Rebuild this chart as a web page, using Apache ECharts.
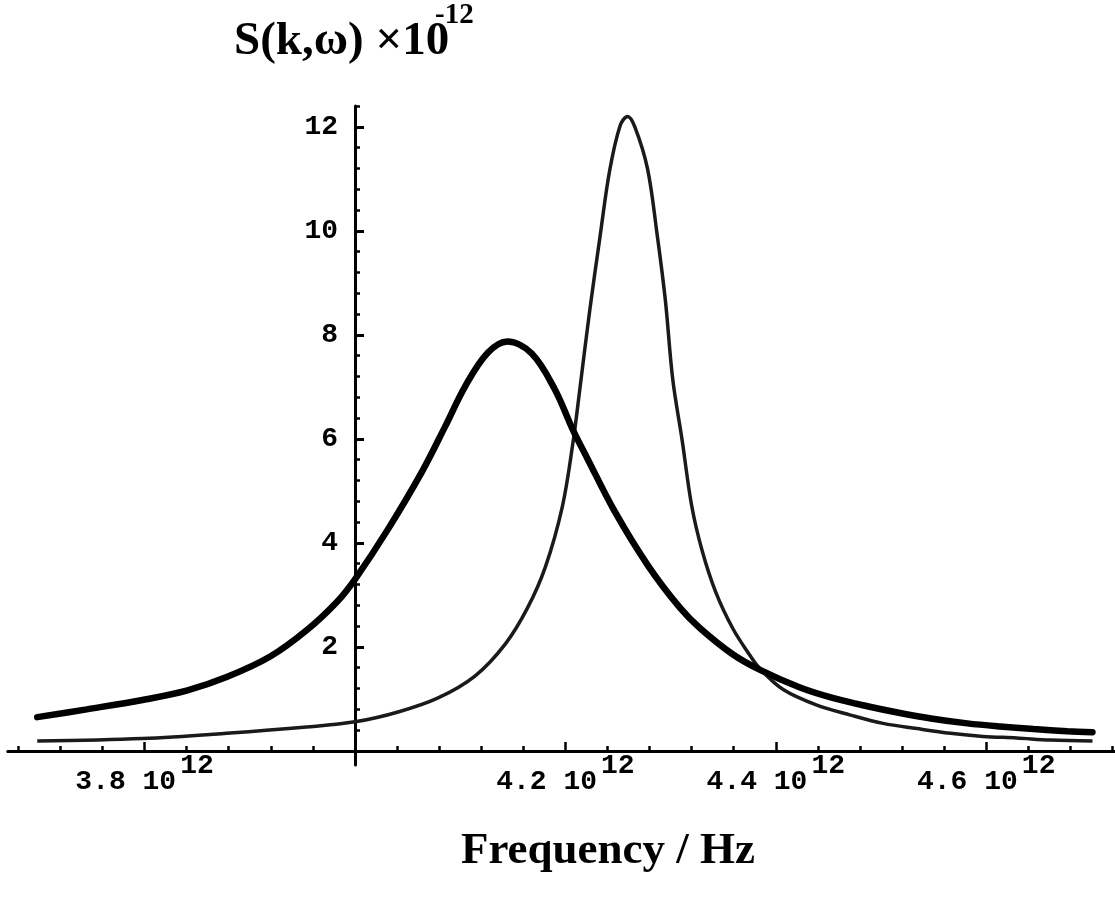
<!DOCTYPE html>
<html><head><meta charset="utf-8">
<script src="https://cdn.jsdelivr.net/npm/echarts@6/dist/echarts.min.js"></script>
<style>html,body{margin:0;padding:0;background:#fff}#c{width:1115px;height:904px}</style>
</head><body><div id="c"></div>
<script>
// Frequency in units of 10^12 Hz, S(k,ω) in units of 10^-12
const thickFreq = [3.698,3.745,3.798,3.840,3.878,3.919,3.954,3.983,4.000,4.031,4.064,4.086,4.105,4.126,4.145,4.168,4.190,4.207,4.221,4.247,4.279,4.309,4.328,4.359,4.385,4.423,4.454,4.487,4.518,4.549,4.582,4.613,4.645,4.677,4.701];
const thickVal  = [0.65,0.80,0.98,1.16,1.42,1.81,2.32,2.87,3.30,4.25,5.38,6.25,7.02,7.65,7.87,7.64,6.95,6.18,5.62,4.60,3.55,2.75,2.36,1.86,1.56,1.22,1.02,0.86,0.73,0.62,0.53,0.47,0.42,0.38,0.36];
const thinFreq = [3.698,3.798,3.878,3.954,4.000,4.041,4.079,4.114,4.143,4.164,4.181,4.197,4.207,4.214,4.223,4.233,4.242,4.252,4.259,4.266,4.278,4.287,4.295,4.302,4.311,4.320,4.330,4.343,4.359,4.375,4.385,4.407,4.439,4.471,4.502,4.534,4.566,4.597,4.629,4.661,4.701];
const thinVal  = [0.19,0.24,0.34,0.46,0.56,0.75,1.02,1.44,2.06,2.75,3.54,4.69,5.90,7.00,8.45,9.90,11.15,12.02,12.20,12.00,11.20,9.96,8.67,7.15,5.97,4.72,3.85,3.05,2.36,1.85,1.58,1.18,0.88,0.69,0.53,0.43,0.34,0.28,0.25,0.21,0.19];

const xLabelTicks = [3.8, 4.2, 4.4, 4.6];
const xMajorTicks = [3.8, 4.0, 4.2, 4.4, 4.6];
const xMinorTicks = [3.68,3.72,3.76,3.80,3.84,3.88,3.92,3.96,4.00,4.04,4.08,4.12,4.16,4.20,4.24,4.28,4.32,4.36,4.40,4.44,4.48,4.52,4.56,4.60,4.64,4.68,4.72];
const yLabelTicks = [2, 4, 6, 8, 10, 12];
const yMinorTicks = [0.4,0.8,1.2,1.6,2,2.4,2.8,3.2,3.6,4,4.4,4.8,5.2,5.6,6,6.4,6.8,7.2,7.6,8,8.4,8.8,9.2,9.6,10,10.4,10.8,11.2,11.6,12,12.4];

const xMin = 3.6702, xMax = 4.7224, yMin = -0.27, yMax = 12.4;
const mono = '"Liberation Mono", "DejaVu Sans Mono", monospace';
const serif = '"Liberation Serif", "DejaVu Serif", serif';

const chart = echarts.init(document.getElementById('c'), null, {renderer: 'canvas'});
const lineCol = '#000';
chart.setOption({
  animation: false,
  backgroundColor: '#fff',
  grid: {left: 8, right: 0, top: 106, bottom: 139},
  graphic: [
    {type: 'text', x: 234, y: 18, style: {text: 'S(k,ω) ×10', font: 'bold 47px ' + serif, fill: '#000', textVerticalAlign: 'top'}},
    {type: 'text', x: 435, y: 1, style: {text: '-12', font: 'bold 29px ' + serif, fill: '#000', textVerticalAlign: 'top'}},
    {type: 'text', x: 608, y: 829, style: {text: 'Frequency / Hz', font: 'bold 45px ' + serif, fill: '#000', textAlign: 'center', textVerticalAlign: 'top'}}
  ],
  xAxis: [
    {
      type: 'value', min: xMin, max: xMax, position: 'bottom',
      axisLine: {onZero: true, onZeroAxisIndex: 0, lineStyle: {color: lineCol, width: 3}},
      axisTick: {inside: true, length: 9, customValues: xMajorTicks, lineStyle: {color: lineCol, width: 2.5}},
      axisLabel: {
        customValues: xLabelTicks, margin: -13, color: '#000',
        formatter: v => '{a|' + v.toFixed(1) + ' 10}{s|12}',
        rich: {
          a: {fontFamily: mono, fontWeight: 'bold', fontSize: 28, lineHeight: 44, verticalAlign: 'bottom', color: '#000'},
          s: {fontFamily: mono, fontWeight: 'bold', fontSize: 28, lineHeight: 44, verticalAlign: 'top', color: '#000', padding: [0, 0, 0, 4]}
        }
      },
      splitLine: {show: false}
    },
    {
      type: 'value', min: xMin, max: xMax, position: 'bottom',
      axisLine: {show: true, onZero: true, onZeroAxisIndex: 0, lineStyle: {color: lineCol, width: 3}},
      axisTick: {inside: true, length: 5, customValues: xMinorTicks, lineStyle: {color: lineCol, width: 2.5}},
      axisLabel: {show: false},
      splitLine: {show: false}
    }
  ],
  yAxis: [
    {
      type: 'value', min: yMin, max: yMax, position: 'left', offset: -347,
      axisLine: {show: true, onZero: false, lineStyle: {color: lineCol, width: 3}},
      axisTick: {inside: true, length: 5, customValues: yMinorTicks, lineStyle: {color: lineCol, width: 2.5}},
      axisLabel: {customValues: yLabelTicks, margin: 17, color: '#000', fontFamily: mono, fontWeight: 'bold', fontSize: 28},
      splitLine: {show: false}
    },
    {
      type: 'value', min: yMin, max: yMax, position: 'left', offset: -347,
      axisLine: {show: false, onZero: false},
      axisTick: {inside: true, length: 9, customValues: yLabelTicks, lineStyle: {color: lineCol, width: 3}},
      axisLabel: {show: false},
      splitLine: {show: false}
    }
  ],
  series: [
    {
      type: 'line', xAxisIndex: 0, yAxisIndex: 0, showSymbol: false, smooth: 0.35,
      data: thinFreq.map((f, i) => [f, thinVal[i]]),
      lineStyle: {color: '#1a1a1a', width: 3.5}, z: 3
    },
    {
      type: 'line', xAxisIndex: 0, yAxisIndex: 0, showSymbol: false, smooth: 0.35,
      data: thickFreq.map((f, i) => [f, thickVal[i]]),
      lineStyle: {color: '#000', width: 6.5, cap: 'round'}, z: 4
    }
  ]
});
</script></body></html>
